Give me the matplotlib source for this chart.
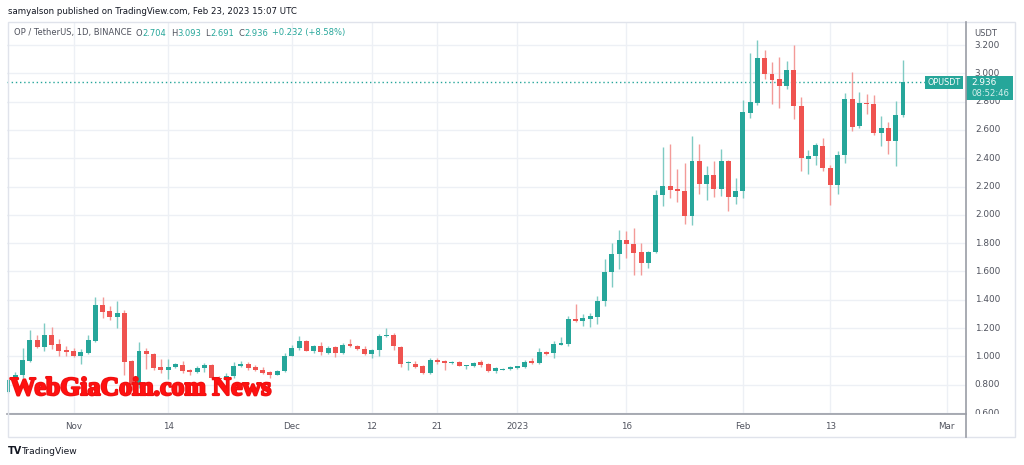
import matplotlib
matplotlib.use("Agg")
import matplotlib.pyplot as plt
import matplotlib.dates as mdates
import matplotlib.patheffects as pe
from matplotlib.patches import Rectangle
from matplotlib.lines import Line2D
import numpy as np
import pandas as pd

# daily OP/USDT candles, Oct 23 2022 .. Feb 23 2023
dates = pd.date_range("2022-10-23", "2023-02-23", freq="D")
opens = [
    0.75, 0.83, 0.87, 0.966, 1.115, 1.063, 1.151, 1.087, 1.044,
    1.037, 1.0, 1.025, 1.111, 1.364, 1.32, 1.281, 1.307, 0.966, 0.80,
    1.039, 1.02, 0.923, 0.902, 0.926, 0.941, 0.901, 0.887, 0.916, 0.939,
    0.847, 0.84, 0.864, 0.929, 0.948, 0.925, 0.906, 0.889, 0.871, 0.894,
    1.0, 1.059, 1.11, 1.04, 1.075, 1.024, 1.064, 1.024, 1.087, 1.075,
    1.052, 1.016, 1.047, 1.141, 1.148, 1.066, 0.951, 0.948, 0.929, 0.882,
    0.976, 0.965, 0.953, 0.96, 0.929, 0.934, 0.958, 0.946, 0.894, 0.906,
    0.911,
    0.918, 0.922, 0.965, 0.955, 1.033, 1.024, 1.082, 1.089, 1.264, 1.252,
    1.266, 1.278, 1.388, 1.595, 1.725, 1.824, 1.795, 1.736, 1.659, 1.741,
    2.137, 2.201, 2.185, 2.17, 1.995, 2.383, 2.218, 2.279, 2.185, 2.379,
    2.123,
    2.166, 2.722, 2.793, 3.108, 2.999, 2.959, 2.911, 3.025, 2.769, 2.398,
    2.414, 2.485, 2.331, 2.213, 2.426, 2.821, 2.627, 2.793, 2.781, 2.58,
    2.611, 2.521, 2.704,
]
highs = [
    0.84, 0.89, 1.056, 1.187, 1.151, 1.234, 1.205, 1.12, 1.073,
    1.061, 1.049, 1.151, 1.42, 1.419, 1.353, 1.393, 1.326, 0.973, 1.099,
    1.06, 1.025, 0.985, 0.985, 0.955, 0.965, 0.912, 0.93, 0.953, 0.946,
    0.86, 0.88, 0.958, 0.965, 0.958, 0.94, 0.925, 0.90, 0.906, 1.024,
    1.082, 1.146, 1.117, 1.082, 1.099, 1.071, 1.075, 1.094, 1.122, 1.08,
    1.07, 1.052, 1.16, 1.2, 1.165, 1.075, 0.965, 0.965, 0.941, 0.988,
    0.988, 0.972, 0.967, 0.965, 0.941, 0.958, 0.972, 0.953, 0.925, 0.915,
    0.929,
    0.934, 0.976, 0.991, 1.059, 1.04, 1.106, 1.134, 1.282, 1.369, 1.299,
    1.306, 1.428, 1.687, 1.8, 1.894, 1.887, 1.906, 1.8, 1.748, 2.178,
    2.48, 2.504, 2.327, 2.367, 2.556, 2.504, 2.343, 2.383, 2.466, 2.39,
    2.26,
    2.81, 3.141, 3.236, 3.164, 3.077, 3.117, 3.089, 3.202, 2.833, 2.462,
    2.509, 2.544, 2.355, 2.45, 2.864, 3.013, 2.871, 2.852, 2.847, 2.698,
    2.658, 2.805, 3.093,
]
lows = [
    0.74, 0.82, 0.85, 0.96, 1.056, 1.04, 1.049, 1.0, 1.004,
    0.997, 0.945, 1.02, 1.099, 1.27, 1.258, 1.203, 0.866, 0.76, 0.78,
    0.914, 0.902, 0.885, 0.838, 0.92, 0.882, 0.87, 0.882, 0.892, 0.835,
    0.82, 0.83, 0.847, 0.925, 0.906, 0.899, 0.877, 0.847, 0.866, 0.889,
    1.0, 1.047, 1.035, 1.024, 1.012, 1.02, 0.995, 1.02, 1.066, 1.042,
    1.012, 0.988, 1.0, 1.136, 1.047, 0.925, 0.901, 0.918, 0.875, 0.878,
    0.948, 0.901, 0.948, 0.929, 0.911, 0.925, 0.925, 0.889, 0.882, 0.901,
    0.906,
    0.913, 0.918, 0.948, 0.948, 1.01, 0.988, 1.08, 1.07, 1.24, 1.212,
    1.205, 1.228, 1.358, 1.489, 1.616, 1.694, 1.576, 1.576, 1.628, 1.73,
    2.06, 2.118, 2.088, 1.934, 1.929, 2.147, 2.107, 2.123, 2.13, 2.028,
    2.076,
    2.118, 2.682, 2.774, 2.963, 2.786, 2.757, 2.888, 2.675, 2.308, 2.289,
    2.35, 2.308, 2.071, 2.147, 2.367, 2.592, 2.611, 2.715, 2.568, 2.485,
    2.433, 2.343, 2.691,
]
closes = [
    0.83, 0.87, 0.973, 1.115, 1.063, 1.151, 1.08, 1.037, 1.032,
    1.0, 1.028, 1.113, 1.364, 1.317, 1.28, 1.307, 0.961, 0.80, 1.037,
    1.02, 0.918, 0.902, 0.926, 0.945, 0.899, 0.889, 0.918, 0.939, 0.847,
    0.84, 0.865, 0.934, 0.948, 0.918, 0.904, 0.882, 0.871, 0.896, 1.005,
    1.059, 1.106, 1.04, 1.071, 1.028, 1.059, 1.024, 1.082, 1.071, 1.052,
    1.016, 1.047, 1.141, 1.153, 1.071, 0.946, 0.955, 0.922, 0.882, 0.976,
    0.958, 0.953, 0.96, 0.934, 0.937, 0.953, 0.941, 0.894, 0.918, 0.913,
    0.922,
    0.929, 0.96, 0.953, 1.033, 1.019, 1.089, 1.094, 1.266, 1.252, 1.271,
    1.282, 1.395, 1.595, 1.725, 1.824, 1.793, 1.734, 1.659, 1.741, 2.142,
    2.201, 2.178, 2.166, 1.995, 2.379, 2.218, 2.279, 2.185, 2.379, 2.123,
    2.17,
    2.727, 2.8, 3.108, 2.994, 2.954, 2.911, 3.025, 2.769, 2.402, 2.414,
    2.492, 2.331, 2.213, 2.426, 2.821, 2.623, 2.793, 2.781, 2.58, 2.611,
    2.521, 2.704, 2.936,
]
price_ticks = [0.6 + 0.2 * i for i in range(14)]
time_ticks = ["2022-11-01", "2022-11-14", "2022-12-01", "2022-12-12", "2022-12-21",
              "2023-01-01", "2023-01-16", "2023-02-01", "2023-02-13", "2023-03-01"]
time_labels = ["Nov", "14", "Dec", "12", "21", "2023", "16", "Feb", "13", "Mar"]
last_price = 2.936

UP = "#26a69a"
DOWN = "#ef5350"
UP_WICK = "#7fcbc3"
DOWN_WICK = "#f39a98"
GRID = "#edf0f5"
TXT = "#50535e"

W, H = 1024, 465
fig = plt.figure(figsize=(W / 100, H / 100), dpi=100)
fig.patch.set_facecolor("white")


def fx(x):
    return x / W


def fy(y):
    return 1 - y / H


# main chart area: x 7..966, y 22..414 (pixels)
ax = fig.add_axes([fx(7), fy(414), fx(966) - fx(7), fy(22) - fy(414)])
ax.set_facecolor("white")

x = mdates.date2num(dates)
o = np.array(opens)
h = np.array(highs)
l = np.array(lows)
c = np.array(closes)
up = c >= o
body_lo = np.minimum(o, c)
body_h = np.maximum(np.abs(c - o), 0.006)

ax.vlines(x[up], l[up], h[up], color=UP_WICK, lw=1.0, zorder=2)
ax.vlines(x[~up], l[~up], h[~up], color=DOWN_WICK, lw=1.0, zorder=2)
ax.bar(x[up], body_h[up], bottom=body_lo[up], width=0.68, color=UP, lw=0, zorder=3)
ax.bar(x[~up], body_h[~up], bottom=body_lo[~up], width=0.68, color=DOWN, lw=0, zorder=3)

x0 = mdates.date2num(pd.Timestamp("2022-10-23")) - 0.14
x1 = mdates.date2num(pd.Timestamp("2023-02-23")) + 8.66
ax.set_xlim(x0, x1)
ax.set_ylim(0.593, 3.363)

ax.set_yticks(price_ticks)
ax.tick_params(axis="y", left=False, labelleft=False)
ax.set_xticks(mdates.date2num(pd.to_datetime(time_ticks)))
ax.set_xticklabels(time_labels)
ax.tick_params(axis="x", length=0, pad=6, labelsize=6.3, labelcolor=TXT)
ax.grid(True, color=GRID, lw=1, zorder=0)
ax.set_axisbelow(True)
for s in ["top", "left", "right"]:
    ax.spines[s].set_visible(False)
ax.spines["bottom"].set_color("#9a9da6")
ax.spines["bottom"].set_linewidth(1.2)

# last price dotted line
ax.plot([x0, mdates.date2num(pd.Timestamp("2023-02-23")) + 3.0], [last_price, last_price],
        color=UP, lw=1, ls=(0, (1, 2)), zorder=1)

# price scale
axp = fig.add_axes([fx(966), fy(414), fx(1015) - fx(966), fy(22) - fy(414)])
axp.set_ylim(0.593, 3.363)
axp.set_xlim(0, 1)
axp.axis("off")
for p in price_ticks:
    axp.text(0.18, p, f"{p:.3f}", fontsize=6.4, color=TXT, va="center", ha="left",
             clip_on=True)
fig.text(fx(974), fy(33), "USDT", fontsize=6, color=TXT, va="center", ha="left")

# frame lines
fig.add_artist(Rectangle((fx(8), fy(437)), fx(1015) - fx(8), fy(22) - fy(437),
                         transform=fig.transFigure, fill=False, ec="#e0e3eb", lw=1))
fig.add_artist(Line2D([fx(966), fx(966)], [fy(437), fy(22)], transform=fig.transFigure,
                      color="#9a9da6", lw=1.2))

# price tags
fig.add_artist(Rectangle((fx(925), fy(89)), fx(963) - fx(925), fy(76) - fy(89),
                         transform=fig.transFigure, color=UP, lw=0))
fig.text(fx(944), fy(82.5), "OPUSDT", fontsize=5.8, color="white", ha="center", va="center")
fig.add_artist(Rectangle((fx(966), fy(100)), fx(1013) - fx(966), fy(76) - fy(100),
                         transform=fig.transFigure, color=UP, lw=0))
fig.text(fx(971), fy(82.5), f"{last_price:.3f}", fontsize=6.4, color="white",
         ha="left", va="center")
fig.text(fx(971), fy(93.5), "08:52:46", fontsize=6.1, color="#d4efec",
         ha="left", va="center")

# header
fig.text(fx(8), fy(12), "samyalson published on TradingView.com, Feb 23, 2023 15:07 UTC",
         fontsize=6.2, color="#131722", va="center", ha="left")

renderer = fig.canvas.get_renderer()
legend_parts = [
    ("OP / TetherUS, 1D, BINANCE", TXT, 4),
    ("O", TXT, 0.5), ("2.704", UP, 4),
    ("H", TXT, 0.5), ("3.093", UP, 4),
    ("L", TXT, 0.5), ("2.691", UP, 4),
    ("C", TXT, 0.5), ("2.936", UP, 4),
    ("+0.232 (+8.58%)", UP, 0),
]
cur = 14.0
for s, col, gap in legend_parts:
    t = fig.text(fx(cur), fy(33), s, fontsize=6.0, color=col, va="center", ha="left")
    cur += t.get_window_extent(renderer=renderer).width + gap

# footer logo
fig.text(fx(8), fy(451), "TV", fontsize=7, color="#131722", fontweight="bold",
         va="center", ha="left")
fig.text(fx(22), fy(451), "TradingView", fontsize=6.6, color="#131722",
         va="center", ha="left")

# watermark, fitted to span x 10..273 px
wm = fig.text(fx(10), fy(395), "WebGiaCoin.com News", fontsize=20, color="#ff1010",
              fontfamily="Liberation Serif", fontweight="bold", va="baseline", ha="left",
              zorder=10,
              path_effects=[pe.withStroke(linewidth=1.6, foreground="#f01010")])
bb = wm.get_window_extent(renderer=renderer)
wm.set_fontsize(20 * 261 / bb.width)

fig.savefig("out.png", dpi=100)
